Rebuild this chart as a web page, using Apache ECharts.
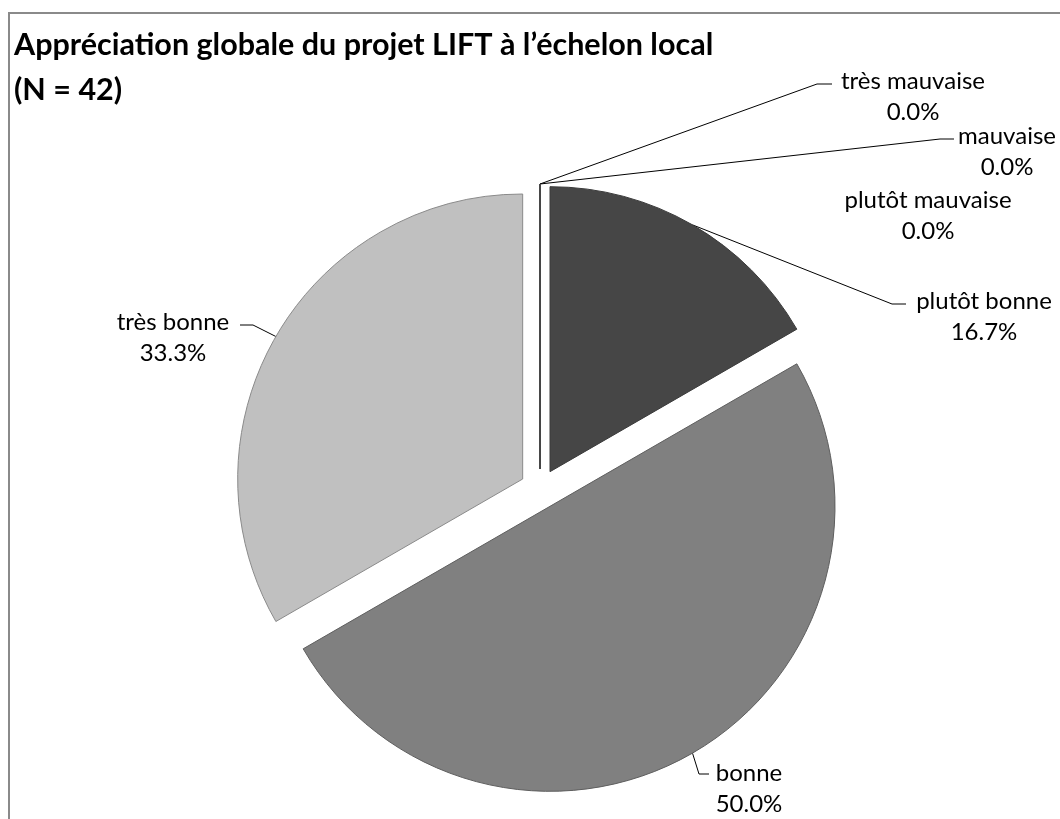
<!DOCTYPE html>
<html>
<head>
<meta charset="utf-8">
<script src="https://cdn.jsdelivr.net/npm/echarts@6/dist/echarts.min.js"></script>
<style>
  html, body { margin: 0; padding: 0; width: 1060px; height: 819px; overflow: hidden; background: #fff; }
  #frame { position: absolute; left: 8px; top: 12px; width: 1200px; height: 1000px; border: 2px solid #8a8a8a; box-sizing: border-box; }
  #chart { position: absolute; left: 0; top: 0; width: 1060px; height: 819px; }
</style>
</head>
<body>
<div id="frame"></div>
<div id="chart"></div>
<script>
// ---- data ----
const titleLines = ["Appréciation globale du projet LIFT à l’échelon local", "(N = 42)"];
const categories = ["très mauvaise", "mauvaise", "plutôt mauvaise", "plutôt bonne", "bonne", "très bonne"];
const counts = [0, 0, 0, 7, 21, 14];

// ---- styles / layout ----
const colors = {
  "plutôt bonne": { fill: "#464646", border: "#3a3a3a" },
  "bonne": { fill: "#808080", border: "#5e5e5e" },
  "très bonne": { fill: "#c0c0c0", border: "#8a8a8a" },
  "très mauvaise": { fill: "#ffffff", border: "#444444" },
  "mauvaise": { fill: "#ffffff", border: "#444444" },
  "plutôt mauvaise": { fill: "#ffffff", border: "#444444" }
};
// label block centre x, first-line centre y, leader bend & end
const labelPos = {
  "très mauvaise":   { x: 913, y: 81,  bend: [817, 84],  end: [832, 84] },
  "mauvaise":        { x: 1007, y: 136, bend: [940, 139], end: [954, 139] },
  "plutôt mauvaise": { x: 928, y: 200, bend: null, end: null },
  "plutôt bonne":    { x: 984, y: 301, bend: [892, 304], end: [906, 304] },
  "très bonne":      { x: 173, y: 322, bend: [253, 325], end: [240, 325] },
  "bonne":           { x: 749, y: 773, bend: [699, 774], end: [709, 774] }
};
const FONT = "Lato, 'Open Sans', sans-serif";
const PIE_CENTER = [540, 489];
const PIE_RADIUS = 285;
const EXPLODE = 20;

const total = counts.reduce((a, b) => a + b, 0);
let cum = 0;
const series = categories.map((name, i) => {
  const v = counts[i];
  const startDeg = cum / total * 360;           // clockwise from 12 o'clock
  const midDeg = (cum + v / 2) / total * 360;
  cum += v;
  const rad = midDeg * Math.PI / 180;
  const center = [PIE_CENTER[0] + EXPLODE * Math.sin(rad), PIE_CENTER[1] - EXPLODE * Math.cos(rad)];
  const lp = labelPos[name];
  return {
    type: 'pie',
    name: name,
    center: center,
    radius: PIE_RADIUS,
    startAngle: 90 - startDeg,
    clockwise: true,
    avoidLabelOverlap: false,
    stillShowZeroSum: true,
    silent: true,
    emphasis: { disabled: true },
    z: 2 + (v > 0 ? 1 : 0),
    data: [
      { name: name, value: v,
        itemStyle: { color: colors[name].fill, borderColor: colors[name].border, borderWidth: 1 } },
      { name: '', value: total - v,
        itemStyle: { color: 'rgba(0,0,0,0)', borderWidth: 0 },
        label: { show: false }, labelLine: { show: false } }
    ],
    label: {
      show: true,
      formatter: p => p.name + '\n' + p.percent.toFixed(1) + '%',
      fontFamily: FONT, fontSize: 24, color: '#000', lineHeight: 31, align: 'center'
    },
    labelLine: { show: !!lp.bend, length: 10, length2: 10, lineStyle: { color: '#000', width: 1 } },
    labelLayout: function (params) {
      const res = { x: lp.x, y: lp.y - 15.5, align: 'center', verticalAlign: 'top' };
      if (lp.bend && params.labelLinePoints) {
        res.labelLinePoints = [params.labelLinePoints[0], lp.bend, lp.end];
      }
      return res;
    }
  };
});

const chart = echarts.init(document.getElementById('chart'), null, { renderer: 'canvas' });
chart.setOption({
  animation: false,
  backgroundColor: 'transparent',
  title: {
    text: titleLines.join('\n'),
    left: 9, top: 18,
    textStyle: { fontFamily: FONT, fontWeight: 'bold', fontSize: 30.5, color: '#000', lineHeight: 45 }
  },
  series: series
});
</script>
</body>
</html>
